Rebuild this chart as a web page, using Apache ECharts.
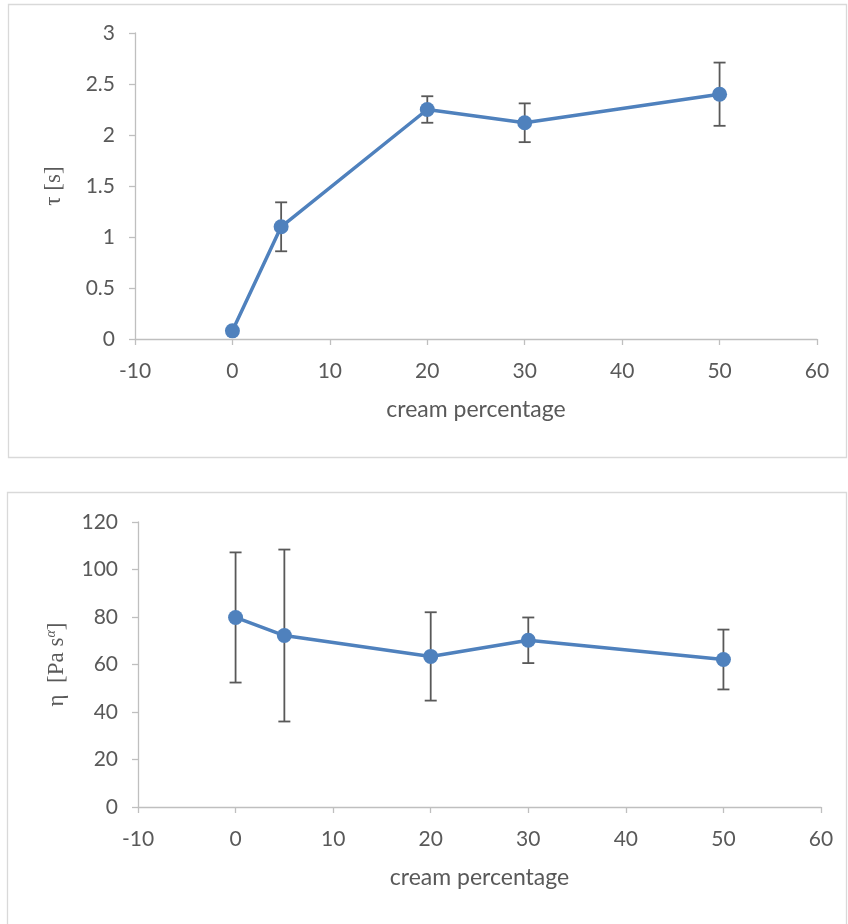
<!DOCTYPE html>
<html>
<head>
<meta charset="utf-8">
<script src="https://cdn.jsdelivr.net/npm/echarts@6/dist/echarts.min.js"></script>
<style>html,body{margin:0;padding:0;background:#fff}#c{width:848px;height:924px}</style>
</head>
<body>
<div id="c"></div>
<script>
// ---- data ----
const creamPct = [0, 5, 20, 30, 50];
const tauValues = [0.08, 1.10, 2.25, 2.12, 2.40];
const tauErr = [0, 0.24, 0.13, 0.19, 0.31];
const etaValues = [79.8, 72.2, 63.4, 70.2, 62.1];
const etaErr = [27.4, 36.2, 18.6, 9.6, 12.6];
const xTicks = { min: -10, max: 60, interval: 10 };
const tauTicks = { min: 0, max: 3, interval: 0.5 };
const etaTicks = { min: 0, max: 120, interval: 20 };

const lineData = (vals) => creamPct.map((x, i) => [x, vals[i]]);
const errData = (vals, errs) => creamPct.map((x, i) => [x, vals[i] - errs[i], vals[i] + errs[i]]).filter((d, i) => errs[i] > 0);

const FONT = 'Lato';
const LABEL = '#595959';
const AXIS = '#BFBFBF';
const BLUE = '#4F81BD';

function errRender(params, api) {
  const x = api.value(0);
  const lo = api.coord([x, api.value(1)]);
  const hi = api.coord([x, api.value(2)]);
  const w = 6;
  const st = { stroke: '#595959', lineWidth: 1.8 };
  return {
    type: 'group',
    children: [
      { type: 'line', shape: { x1: lo[0], y1: lo[1], x2: hi[0], y2: hi[1] }, style: st },
      { type: 'line', shape: { x1: lo[0] - w, y1: lo[1], x2: lo[0] + w, y2: lo[1] }, style: st },
      { type: 'line', shape: { x1: hi[0] - w, y1: hi[1], x2: hi[0] + w, y2: hi[1] }, style: st }
    ]
  };
}

function xAxis(gi) {
  return {
    type: 'value', gridIndex: gi, min: xTicks.min, max: xTicks.max, interval: xTicks.interval,
    name: 'cream percentage', nameLocation: 'middle', nameGap: 59,
    nameTextStyle: { fontFamily: FONT, fontSize: 23, color: LABEL },
    axisLine: { onZero: false, lineStyle: { color: AXIS, width: 1.3 } },
    axisTick: { show: true, length: 6, lineStyle: { color: AXIS, width: 1.3 } },
    axisLabel: { margin: 22, fontFamily: FONT, fontSize: 21, color: LABEL },
    splitLine: { show: false }
  };
}
function yAxis(gi, ticks, name, rich) {
  return {
    type: 'value', gridIndex: gi, min: ticks.min, max: ticks.max, interval: ticks.interval,
    name: name, nameLocation: 'middle', nameRotate: 90, nameGap: 70,
    nameTextStyle: { fontFamily: 'Liberation Serif', fontSize: 23, color: LABEL, rich: rich },
    axisLine: { show: true, onZero: false, lineStyle: { color: AXIS, width: 1.3 } },
    axisTick: { show: true, length: 6, lineStyle: { color: AXIS, width: 1.3 } },
    axisLabel: { margin: 20, fontFamily: FONT, fontSize: 21, color: LABEL },
    splitLine: { show: false }
  };
}

const chart = echarts.init(document.getElementById('c'), null, { renderer: 'canvas' });
chart.setOption({
  animation: false,
  graphic: [
    { type: 'rect', shape: { x: 8.5, y: 4.5, width: 838, height: 453 }, style: { fill: 'none', stroke: '#D9D9D9', lineWidth: 1.3 }, z: -1 },
    { type: 'rect', shape: { x: 7.5, y: 492.5, width: 839, height: 450 }, style: { fill: 'none', stroke: '#D9D9D9', lineWidth: 1.3 }, z: -1 }
  ],
  grid: [
    { left: 135, top: 33, width: 682, height: 306 },
    { left: 138, top: 522, width: 683, height: 285 }
  ],
  xAxis: [xAxis(0), xAxis(1)],
  yAxis: [
    yAxis(0, tauTicks, 'τ [s]'),
    yAxis(1, etaTicks, '{a|η  [Pa s}{sup|α}{a|]}', {
      a: { fontFamily: 'Liberation Serif', fontSize: 23, color: LABEL, lineHeight: 24, verticalAlign: 'bottom' },
      sup: { fontFamily: 'Liberation Serif', fontSize: 14, fontStyle: 'italic', color: LABEL, lineHeight: 16, verticalAlign: 'top' }
    })
  ],
  series: [
    { type: 'custom', xAxisIndex: 0, yAxisIndex: 0, data: errData(tauValues, tauErr), renderItem: errRender, z: 1, silent: true },
    { type: 'line', xAxisIndex: 0, yAxisIndex: 0, data: lineData(tauValues), symbol: 'circle', symbolSize: 15,
      lineStyle: { color: BLUE, width: 3.5 }, itemStyle: { color: BLUE }, z: 2 },
    { type: 'custom', xAxisIndex: 1, yAxisIndex: 1, data: errData(etaValues, etaErr), renderItem: errRender, z: 1, silent: true },
    { type: 'line', xAxisIndex: 1, yAxisIndex: 1, data: lineData(etaValues), symbol: 'circle', symbolSize: 15,
      lineStyle: { color: BLUE, width: 3.5 }, itemStyle: { color: BLUE }, z: 2 }
  ]
});
</script>
</body>
</html>
